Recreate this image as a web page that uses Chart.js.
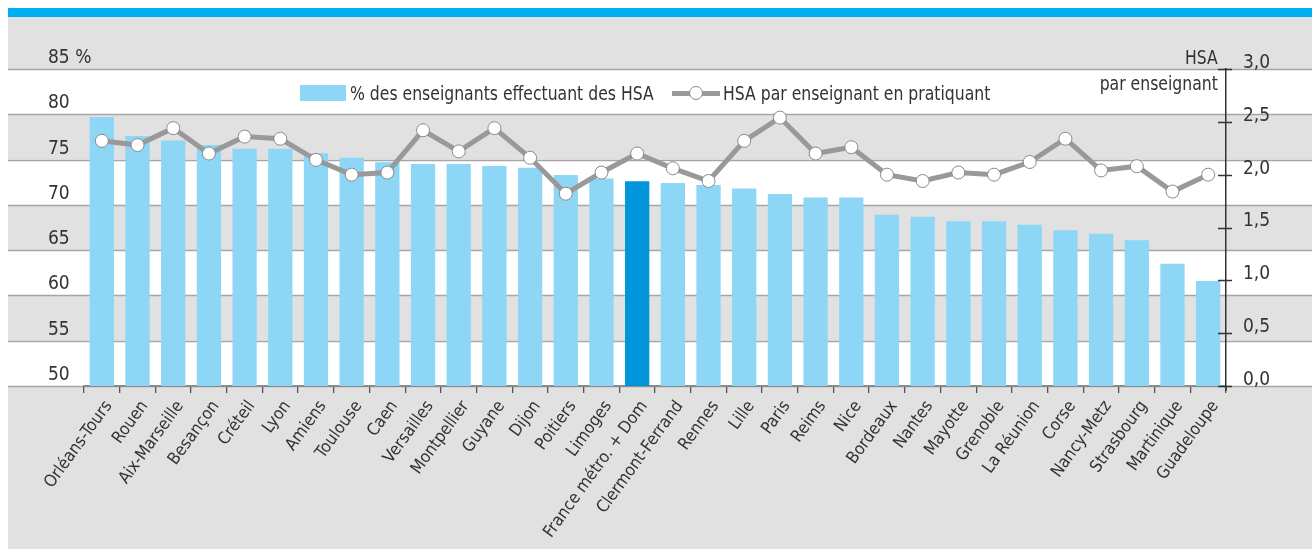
<!DOCTYPE html>
<html>
<head>
<meta charset="utf-8">
<script src="https://cdn.jsdelivr.net/npm/chart.js@4.4.1/dist/chart.umd.min.js"></script>
<style>
  html, body { margin: 0; padding: 0; background: #fff; }
  body { width: 1312px; height: 549px; position: relative; overflow: hidden;
         font-family: "DejaVu Sans Condensed", "DejaVu Sans", sans-serif; color: #333; }
  .topbar { position: absolute; left: 8px; top: 8px; width: 1304px; height: 9px; background: #00aeef; }
  .panel { position: absolute; left: 8px; top: 17px; width: 1304px; height: 532px; background: #e1e1e1; }
  canvas { position: absolute; left: 0; top: 0; }
  .lbl { position: absolute; font-size: 20px; white-space: nowrap; line-height: 20px;
         transform: scaleX(0.87); transform-origin: left center; }
  .lbl.r { transform-origin: right center; }
  .legend-box { position: absolute; width: 46px; height: 16px; background: #8dd6f5; }
  .legend-line { position: absolute; width: 48px; height: 5px; background: #999; }
  .legend-dot { position: absolute; width: 12px; height: 12px; border-radius: 50%;
                background: #fff; border: 1px solid #888; }
</style>
</head>
<body>
<div class="topbar"></div>
<div class="panel">
  <canvas id="chart" width="1304" height="532"></canvas>
  <!-- legend -->
  <div class="legend-box" style="left:292px; top:68px;"></div>
  <div class="lbl" style="left:342px; top:66px;">% des enseignants effectuant des HSA</div>
  <div class="legend-line" style="left:664px; top:74px;"></div>
  <div class="legend-dot" style="left:681px; top:69px;"></div>
  <div class="lbl" style="left:715px; top:66px;">HSA par enseignant en pratiquant</div>
  <!-- right axis title -->
  <div class="lbl r" style="right:94px; top:30px;">HSA</div>
  <div class="lbl r" style="right:94px; top:56px;">par enseignant</div>
</div>

<script>
// ── Data ──
const academies = [
  'Orléans-Tours', 'Rouen', 'Aix-Marseille', 'Besançon', 'Créteil', 'Lyon', 'Amiens', 'Toulouse',
  'Caen', 'Versailles', 'Montpellier', 'Guyane', 'Dijon', 'Poitiers', 'Limoges', 'France métro. + Dom',
  'Clermont-Ferrand', 'Rennes', 'Lille', 'Paris', 'Reims', 'Nice', 'Bordeaux', 'Nantes',
  'Mayotte', 'Grenoble', 'La Réunion', 'Corse', 'Nancy-Metz', 'Strasbourg', 'Martinique', 'Guadeloupe'
];

const pctTeachersHSA = [
  79.7, 77.6, 77.1, 76.6, 76.2, 76.2, 75.7, 75.2,
  74.7, 74.5, 74.5, 74.3, 74.1, 73.3, 72.9, 72.6,
  72.4, 72.2, 71.8, 71.2, 70.8, 70.8, 68.9, 68.7,
  68.2, 68.2, 67.8, 67.2, 66.8, 66.1, 63.5, 61.6
];

const hsaPerTeacher = [
  2.32, 2.28, 2.44, 2.20, 2.36, 2.34, 2.14, 2.00,
  2.02, 2.42, 2.22, 2.44, 2.16, 1.82, 2.02, 2.20,
  2.06, 1.94, 2.32, 2.54, 2.20, 2.26, 2.00, 1.94,
  2.02, 2.00, 2.12, 2.34, 2.04, 2.08, 1.84, 2.00
];

const highlighted = 'France métro. + Dom';

const FONT = '"DejaVu Sans Condensed", "DejaVu Sans", sans-serif';

// ── Background bands + full-width grid lines ──
const bandsPlugin = {
  id: 'bands',
  beforeDraw(chart) {
    const ctx = chart.ctx;
    const y = chart.scales.y;
    const w = chart.width;
    const ticks = y.ticks.map(t => t.value).sort((a, b) => a - b);
    ctx.save();
    for (let i = 0; i < ticks.length - 1; i++) {
      if (i % 2 === 0) {
        const top = y.getPixelForValue(ticks[i + 1]);
        const bot = y.getPixelForValue(ticks[i]);
        ctx.fillStyle = '#ffffff';
        ctx.fillRect(0, top, w, bot - top);
      }
    }
    ctx.strokeStyle = '#a6a6a6';
    ctx.lineWidth = 1.3;
    ticks.forEach(v => {
      const py = Math.round(y.getPixelForValue(v)) + 0.5;
      ctx.beginPath();
      ctx.moveTo(0, py);
      ctx.lineTo(w, py);
      ctx.stroke();
    });
    ctx.restore();
  },
  afterDraw(chart) {
    // tick marks crossing the right axis
    const ctx = chart.ctx;
    const y1 = chart.scales.y1;
    const x = chart.chartArea.right;
    ctx.save();
    ctx.strokeStyle = '#333';
    ctx.lineWidth = 1.5;
    y1.ticks.forEach(t => {
      const py = Math.round(y1.getPixelForValue(t.value)) + 0.5;
      ctx.beginPath();
      ctx.moveTo(x - 8, py);
      ctx.lineTo(x + 6, py);
      ctx.stroke();
    });
    ctx.beginPath();
    ctx.moveTo(x, chart.chartArea.bottom);
    ctx.lineTo(x, chart.chartArea.bottom + 5);
    ctx.stroke();
    ctx.restore();
  }
};

const ctx = document.getElementById('chart').getContext('2d');
new Chart(ctx, {
  type: 'bar',
  data: {
    labels: academies,
    datasets: [
      {
        type: 'line',
        label: 'HSA par enseignant en pratiquant',
        data: hsaPerTeacher,
        yAxisID: 'y1',
        borderColor: '#999999',
        borderWidth: 5,
        pointRadius: 6.5,
        pointBackgroundColor: '#ffffff',
        pointBorderColor: '#8a8a8a',
        pointBorderWidth: 1,
        tension: 0,
        order: 0
      },
      {
        label: '% des enseignants effectuant des HSA',
        data: pctTeachersHSA,
        yAxisID: 'y',
        backgroundColor: academies.map(a => a === highlighted ? '#0096d9' : '#8dd6f5'),
        categoryPercentage: 1,
        barPercentage: 0.68,
        order: 1
      }
    ]
  },
  options: {
    responsive: false,
    animation: false,
    layout: { padding: { left: 40, top: 52, right: 0, bottom: 0 } },
    plugins: {
      legend: { display: false },
      tooltip: { enabled: false }
    },
    scales: {
      x: {
        afterFit: s => { s.height = 163; },
        grid: { drawOnChartArea: false, drawTicks: true, tickLength: 7, color: '#555', offset: true, lineWidth: 1.3 },
        border: { display: true, color: '#8a8a8a', width: 2 },
        ticks: {
          autoSkip: false,
          maxRotation: 54,
          minRotation: 54,
          padding: 4,
          labelOffset: 7,
          color: '#333',
          font: { family: FONT, size: 17 }
        }
      },
      y: {
        position: 'left',
        min: 50,
        max: 85,
        afterFit: s => { s.width = 36; },
        grid: { display: false },
        border: { display: false },
        ticks: {
          stepSize: 5,
          mirror: true,
          padding: -36,
          crossAlign: 'near',
          labelOffset: -11,
          color: '#333',
          font: { family: FONT, size: 19 },
          callback: v => v === 85 ? '85 %' : v
        }
      },
      y1: {
        position: 'right',
        min: 0,
        max: 3,
        afterFit: s => { s.width = 86; },
        grid: { drawOnChartArea: false, drawTicks: false },
        border: { display: true, color: '#333', width: 1.5 },
        ticks: {
          stepSize: 0.5,
          padding: 17,
          labelOffset: -6,
          color: '#333',
          font: { family: FONT, size: 19 },
          callback: v => v.toFixed(1).replace('.', ',')
        }
      }
    }
  },
  plugins: [bandsPlugin]
});
</script>
</body>
</html>
